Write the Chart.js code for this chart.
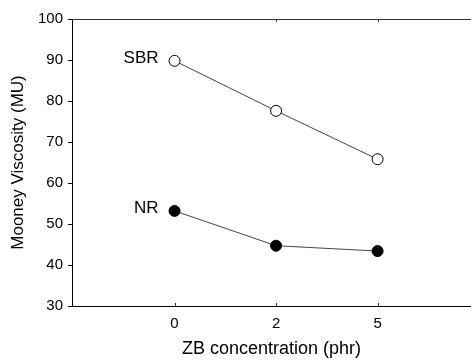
<!DOCTYPE html>
<html>
<head>
<meta charset="utf-8">
<script src="https://cdn.jsdelivr.net/npm/chart.js@4"></script>
<style>
  html, body { margin: 0; padding: 0; background: #fff; }
  #wrap { width: 471px; height: 360px; }
</style>
</head>
<body>
<div id="wrap"><canvas id="chart"></canvas></div>
<script>
// data
const zbLabels = ["0", "2", "5"];
const sbrValues = [89.8, 77.6, 65.8];
const nrValues = [53.2, 44.7, 43.4];
const seriesNames = ["SBR", "NR"];
const yTicks = [30, 40, 50, 60, 70, 80, 90, 100];

const FONT = "'Liberation Sans', Arial, sans-serif";

function toPoints(vals) {
  return vals.map((v, i) => ({ x: i, y: v }));
}

// top frame line, small inner x ticks, series labels next to the first point
const extras = {
  id: "extras",
  afterDraw(chart) {
    const ctx = chart.ctx;
    const a = chart.chartArea;
    const xs = chart.scales.x;
    ctx.save();
    ctx.strokeStyle = "#333";
    ctx.lineWidth = 1;
    ctx.beginPath();
    ctx.moveTo(a.left, a.top + 0.5);
    ctx.lineTo(chart.width, a.top + 0.5);
    xs.ticks.forEach((t) => {
      const px = Math.round(xs.getPixelForValue(t.value)) + 0.5;
      ctx.moveTo(px, a.bottom);
      ctx.lineTo(px, a.bottom - 3);
      if (t.value > 0) {
        ctx.moveTo(px, a.top);
        ctx.lineTo(px, a.top + 3);
      }
    });
    ctx.stroke();

    ctx.font = "17px " + FONT;
    ctx.fillStyle = "#000";
    ctx.textAlign = "right";
    ctx.textBaseline = "alphabetic";
    chart.data.datasets.forEach((ds, i) => {
      const pt = chart.getDatasetMeta(i).data[0];
      ctx.fillText(seriesNames[i], pt.x - 16, pt.y + 2);
    });
    ctx.restore();
  }
};

new Chart(document.getElementById("chart"), {
  type: "line",
  data: {
    datasets: [
      {
        label: seriesNames[0],
        data: toPoints(sbrValues),
        borderColor: "#444",
        borderWidth: 1,
        pointRadius: 5.5,
        pointBackgroundColor: "#fff",
        pointBorderColor: "#000",
        pointBorderWidth: 1,
      },
      {
        label: seriesNames[1],
        data: toPoints(nrValues),
        borderColor: "#444",
        borderWidth: 1,
        pointRadius: 5.5,
        pointBackgroundColor: "#000",
        pointBorderColor: "#000",
        pointBorderWidth: 1,
      },
    ],
  },
  options: {
    responsive: true,
    maintainAspectRatio: false,
    animation: false,
    layout: { autoPadding: false, padding: { top: 19, right: 0, left: 0, bottom: 0 } },
    plugins: { legend: { display: false }, tooltip: { enabled: false } },
    scales: {
      x: {
        type: "linear",
        min: -1.01,
        max: 2.92,
        afterBuildTicks: (s) => { s.ticks = zbLabels.map((_, i) => ({ value: i })); },
        afterFit: (s) => { s.height = 54; s.paddingLeft = 0; s.paddingRight = 0; },
        grid: { display: true, drawOnChartArea: false, drawTicks: false },
        border: { color: "#000", width: 1 },
        ticks: {
          color: "#000",
          font: { family: FONT, size: 15 },
          padding: 9,
          maxRotation: 0,
          callback: (v) => zbLabels[v],
        },
        title: {
          display: true,
          text: "ZB concentration (phr)",
          color: "#000",
          font: { family: FONT, size: 18 },
          padding: { top: 0, bottom: 0 },
        },
      },
      y: {
        min: 30,
        max: 100,
        afterBuildTicks: (s) => { s.ticks = yTicks.map((v) => ({ value: v })); },
        afterFit: (s) => { s.width = 72; s.paddingTop = 0; s.paddingBottom = 0; },
        grid: { display: true, drawOnChartArea: false, drawTicks: true, tickLength: 4, color: "#000" },
        border: { color: "#000", width: 1 },
        ticks: {
          color: "#000",
          font: { family: FONT, size: 15 },
          padding: 5,
        },
        title: {
          display: true,
          text: "Mooney Viscosity (MU)",
          color: "#000",
          font: { family: FONT, size: 17 },
          padding: { top: 8, bottom: 0 },
        },
      },
    },
  },
  plugins: [extras],
});
</script>
</body>
</html>
